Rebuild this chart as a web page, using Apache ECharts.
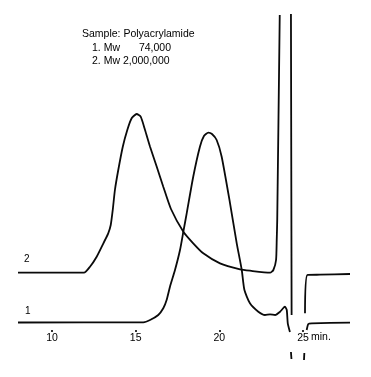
<!DOCTYPE html>
<html>
<head>
<meta charset="utf-8">
<script src="https://cdn.jsdelivr.net/npm/echarts@6/dist/echarts.min.js"></script>
<style>
html,body{margin:0;padding:0;background:#fff;}
#chart{width:371px;height:377px;}
</style>
</head>
<body>
<div id="chart"></div>
<script>
// Retention time (min) and detector response (arbitrary units), '-' = pen off scale
var sample2 = [ // Mw 2,000,000
  [7.97,57.3],[11.91,57.3],[12.27,63.3],[12.67,73.3],[13.07,86.7],[13.36,96.7],[13.51,105],
  [13.63,120],[13.76,140],[13.96,160],[14.23,183.3],[14.50,200],[14.76,211.7],[15.06,216],
  [15.30,213.3],[15.56,200],[15.86,183.3],[16.26,163.3],[16.65,143.3],[17.11,121],[17.85,98.3],
  [18.44,86.7],[19.04,76.7],[20.04,66.7],[21.24,60.7],[21.83,59.3],[23.03,57.3],[23.23,60],
  [23.39,70],[23.43,90],[23.46,110],[23.61,315],
  [23.9,'-'],
  [24.28,316],[24.32,15],
  [24.7,'-'],
  [25.12,16.7],[25.26,55],[26.02,55.3],[27.81,56]
];
var sample1 = [ // Mw 74,000
  [7.97,7.5],[15.46,7.7],[15.86,10],[16.35,15],[16.65,21.7],[16.85,30],[17.05,43.3],[17.35,60],
  [17.65,80],[17.85,98.3],[18.05,116.7],[18.44,153.3],[18.84,183.3],[19.08,194],[19.34,197.3],
  [19.56,196],[19.84,190],[20.14,173.3],[20.64,126.7],[21.04,86.7],[21.34,60],[21.50,40],
  [21.83,26.7],[22.33,18.3],[22.73,15],[23.03,15.7],[23.33,15],[23.63,18.3],[23.92,23.3],
  [24.03,20],[24.09,6.7],[24.22,-2],
  [24.25,'-'],
  [24.28,-22],[24.31,-29],
  [24.7,'-'],
  [25.06,-30],[25.08,-23],
  [25.15,'-'],
  [25.22,0],[25.32,6],[25.52,6.7],[27.81,7.3]
];
var tickValues = [10, 15, 20, 25];
var curveLabels = ['1', '2'];
var titleLines = ['Sample: Polyacrylamide', '1. Mw', '74,000', '2. Mw 2,000,000'];

var chart = echarts.init(document.getElementById('chart'), null, {renderer: 'canvas'});
var font = 'Liberation Sans, Arial, Helvetica, sans-serif';
var lineStyle = {color: '#0a0a0a', width: 1.8};
var tf = '10.5px ' + font;
chart.setOption({
  animation: false,
  backgroundColor: '#fff',
  grid: {left: 0, right: 0, top: 0, bottom: 47, containLabel: false},
  xAxis: {
    type: 'value', min: 6.8924, max: 29.064,
    axisLine: {show: false},
    splitLine: {show: false},
    axisTick: {show: true, customValues: tickValues, length: 2, lineStyle: {color: '#000', width: 1.6}},
    axisLabel: {customValues: tickValues, color: '#000', fontSize: 10.5, fontFamily: font, margin: 3}
  },
  yAxis: {type: 'value', min: 0, max: 330, show: false},
  graphic: [
    {type: 'text', left: 82, top: 29, style: {text: titleLines[0], font: tf, fill: '#000'}},
    {type: 'text', left: 92, top: 43, style: {text: titleLines[1], font: tf, fill: '#000'}},
    {type: 'text', right: 371 - 171, top: 43, style: {text: titleLines[2], font: tf, fill: '#000'}},
    {type: 'text', left: 92, top: 56, style: {text: titleLines[3], font: tf, fill: '#000'}},
    {type: 'text', left: 311, top: 332, style: {text: 'min.', font: tf, fill: '#000'}},
    {type: 'text', left: 24, top: 254, style: {text: curveLabels[1], font: '10px ' + font, fill: '#000'}},
    {type: 'text', left: 25, top: 306, style: {text: curveLabels[0], font: '10px ' + font, fill: '#000'}}
  ],
  series: [
    {type: 'line', data: sample2, showSymbol: false, smooth: 0.2, connectNulls: false, clip: false, lineStyle: lineStyle},
    {type: 'line', data: sample1, showSymbol: false, smooth: 0.2, connectNulls: false, clip: false, lineStyle: lineStyle}
  ]
});
</script>
</body>
</html>
